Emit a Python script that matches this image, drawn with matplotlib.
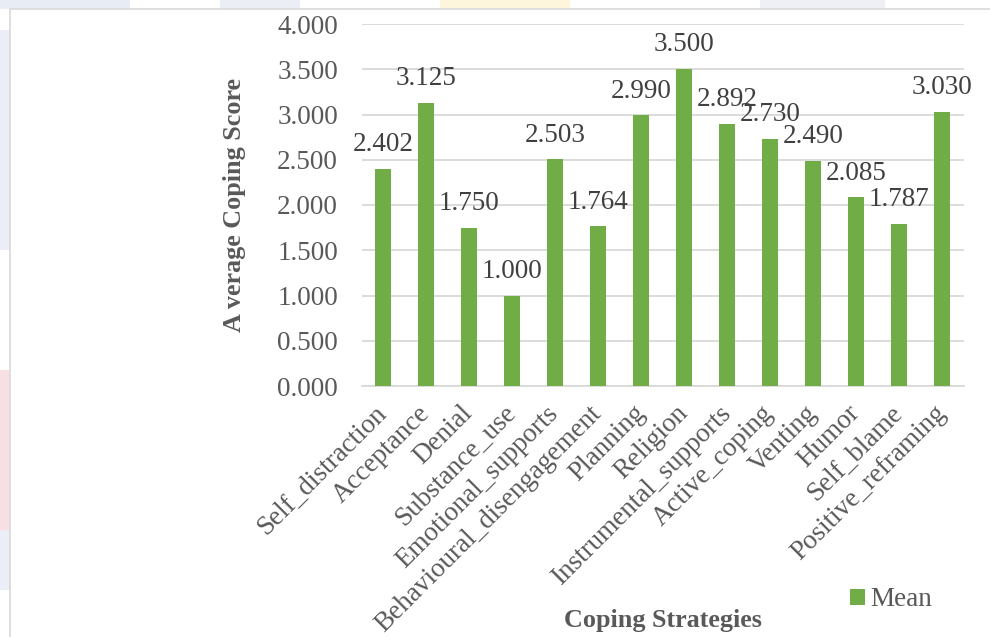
import matplotlib
matplotlib.use("Agg")
import matplotlib.pyplot as plt
from matplotlib.patches import Rectangle

# Mean coping scores per strategy
strategies = ["Self_distraction", "Acceptance", "Denial", "Substance_use",
              "Emotional_supports", "Behavioural_disengagement", "Planning",
              "Religion", "Instrumental_supports", "Active_coping", "Venting",
              "Humor", "Self_blame", "Positive_reframing"]
mean_scores = [2.402, 3.125, 1.750, 1.000, 2.503, 1.764, 2.990,
               3.500, 2.892, 2.730, 2.490, 2.085, 1.787, 3.030]
y_ticks = [0.0, 0.5, 1.0, 1.5, 2.0, 2.5, 3.0, 3.5, 4.0]

W, H = 990, 637
BAR = "#70ad47"
GRID = "#d9d9d9"
TICK_C = "#595959"
LABEL_C = "#404040"
FONT = "Liberation Serif"
FS = 19.5

plt.rcParams["font.family"] = [FONT, "DejaVu Serif"]

fig = plt.figure(figsize=(W / 100, H / 100), dpi=100)
fig.patch.set_facecolor("white")

# faint page tint visible around the chart frame
for (x0, y0, w, h, c) in [
    (0, 0, 130, 9, "#e8ecf4"), (220, 0, 80, 9, "#eceef5"),
    (440, 0, 130, 9, "#fdf6dc"), (760, 0, 125, 9, "#eef0f5"),
    (0, 30, 10, 220, "#ebeef6"), (0, 370, 10, 160, "#f7dfe3"),
    (0, 530, 10, 60, "#ebeef6"),
]:
    fig.patches.append(Rectangle((x0 / W, 1 - (y0 + h) / H), w / W, h / H,
                                 transform=fig.transFigure, facecolor=c,
                                 edgecolor="none", zorder=-2))

# chart-area frame (extends past the right and bottom edges)
fig.patches.append(Rectangle((10 / W, -0.1), 1.2, 1 - 9 / H + 0.1,
                             transform=fig.transFigure, facecolor="white",
                             edgecolor="#d9d9d9", linewidth=1.2, zorder=-1))

ax = fig.add_axes([361.5 / W, 1 - 386 / H, 602 / W, 362 / H])
ax.set_facecolor("none")

x = list(range(len(strategies)))
bars = ax.bar(x, mean_scores, width=0.36, color=BAR, zorder=3, label="Mean")

ax.set_xlim(-0.5, len(strategies) - 0.5)
ax.set_ylim(0, 4.0)
ax.set_yticks(y_ticks)
ax.set_yticklabels([f"{v:.3f}" for v in y_ticks])
ax.yaxis.grid(True, color=GRID, linewidth=1.3, zorder=0)
ax.set_axisbelow(True)
for s in ["top", "right", "left"]:
    ax.spines[s].set_visible(False)
ax.spines["bottom"].set_color(GRID)
ax.spines["bottom"].set_linewidth(1.3)

ax.tick_params(axis="y", length=0, pad=17, labelsize=FS, labelcolor=TICK_C)
ax.tick_params(axis="x", length=0, pad=17, labelsize=FS, labelcolor=TICK_C)
ax.set_xticks(x)
ax.set_xticklabels(strategies, rotation=45, ha="right", va="center",
                   rotation_mode="anchor")

for xi, v in zip(x, mean_scores):
    ax.annotate(f"{v:.3f}", xy=(xi, v), xytext=(0, 17.5),
                textcoords="offset points", ha="center", va="center",
                fontsize=FS, color=LABEL_C, zorder=5)

fig.text(235 / W, 1 - 205 / H, "A verage Coping Score", rotation=90,
         ha="center", va="center", fontsize=18.8, fontweight="bold",
         color=TICK_C)
fig.text(663 / W, 1 - 620 / H, "Coping Strategies", ha="center",
         va="center", fontsize=18.8, fontweight="bold", color=TICK_C)

fig.legend(handles=[bars], labels=["Mean"], loc="center left",
           bbox_to_anchor=(850 / W, 1 - 600 / H),
           bbox_transform=fig.transFigure, frameon=False, borderpad=0,
           borderaxespad=0, handlelength=0.55, handleheight=0.55,
           handletextpad=0.2, prop={"family": FONT, "size": FS},
           labelcolor=TICK_C)

fig.savefig("out.png", dpi=100, facecolor="white")
